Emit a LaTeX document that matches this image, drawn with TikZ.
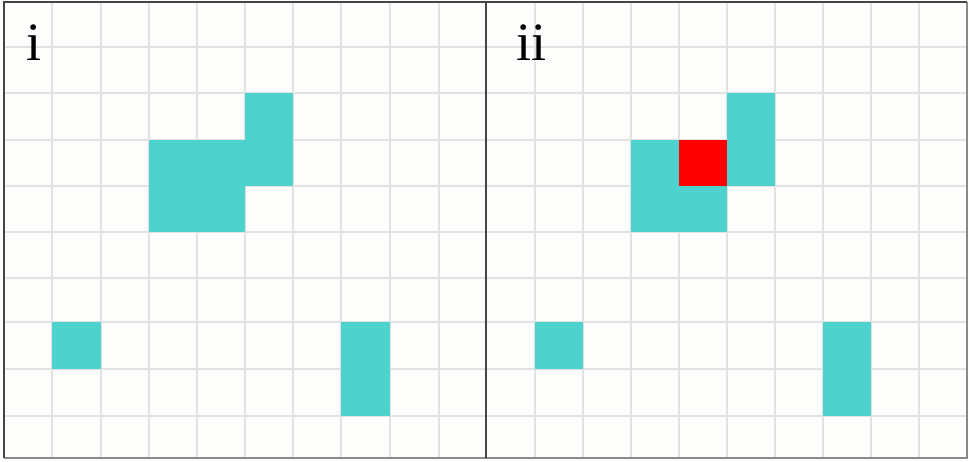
\documentclass[tikz,border=0pt]{standalone}
\usepackage{fontspec}
\setmainfont{Liberation Serif}
\definecolor{cy}{HTML}{4ED2CD}
\definecolor{rd}{HTML}{FF0000}
\definecolor{gl}{HTML}{E2E2E2}
\definecolor{bd}{HTML}{454545}
\definecolor{bdl}{HTML}{8A8A8A}
\definecolor{bgc}{HTML}{FDFDFC}
\tikzset{
  gridline/.style={draw=gl, line width=1.6pt},
  border/.style={draw=bd, line width=2pt},
  lightborder/.style={draw=bdl, line width=2pt},
  cyancell/.style={fill=cy},
  redcell/.style={fill=rd},
  panellabel/.style={anchor=base west, inner sep=0pt, font=\fontsize{54}{54}\selectfont}
}
\begin{document}
\begin{tikzpicture}[x=1pt,y=-1pt]
\useasboundingbox (0,0) rectangle (969,461);
\fill[bgc] (0,0) rectangle (969,461);
% grid
\foreach \x in {52,101,149,197,245,293,341,390,439,535,583,631,679,727,775,823,871,919}
  \draw[gridline] (\x,2) -- (\x,458);
\foreach \y in {47,93,140,186,232,278,322,369,416}
  \draw[gridline] (4,\y) -- (967,\y);
% left panel cells
\fill[cyancell] (245,93) rectangle (293,140);
\fill[cyancell] (149,140) rectangle (293,186);
\fill[cyancell] (149,186) rectangle (245,232);
\fill[cyancell] (52,322) rectangle (101,369);
\fill[cyancell] (341,322) rectangle (390,416);
% right panel cells
\fill[cyancell] (727,93) rectangle (775,186);
\fill[cyancell] (631,140) rectangle (679,232);
\fill[cyancell] (679,186) rectangle (727,232);
\fill[redcell] (679,140) rectangle (727,186);
\fill[cyancell] (535,322) rectangle (583,369);
\fill[cyancell] (823,322) rectangle (871,416);
% borders
\draw[lightborder] (4,458) -- (967,458) -- (967,2);
\draw[border] (4,458) -- (4,2) -- (967,2);
\draw[border] (486,2) -- (486,458);
% labels
\node[panellabel] (labi) at (26,60) {i};
\node[panellabel] (labii) at (516,60) {ii};
\end{tikzpicture}
\end{document}
